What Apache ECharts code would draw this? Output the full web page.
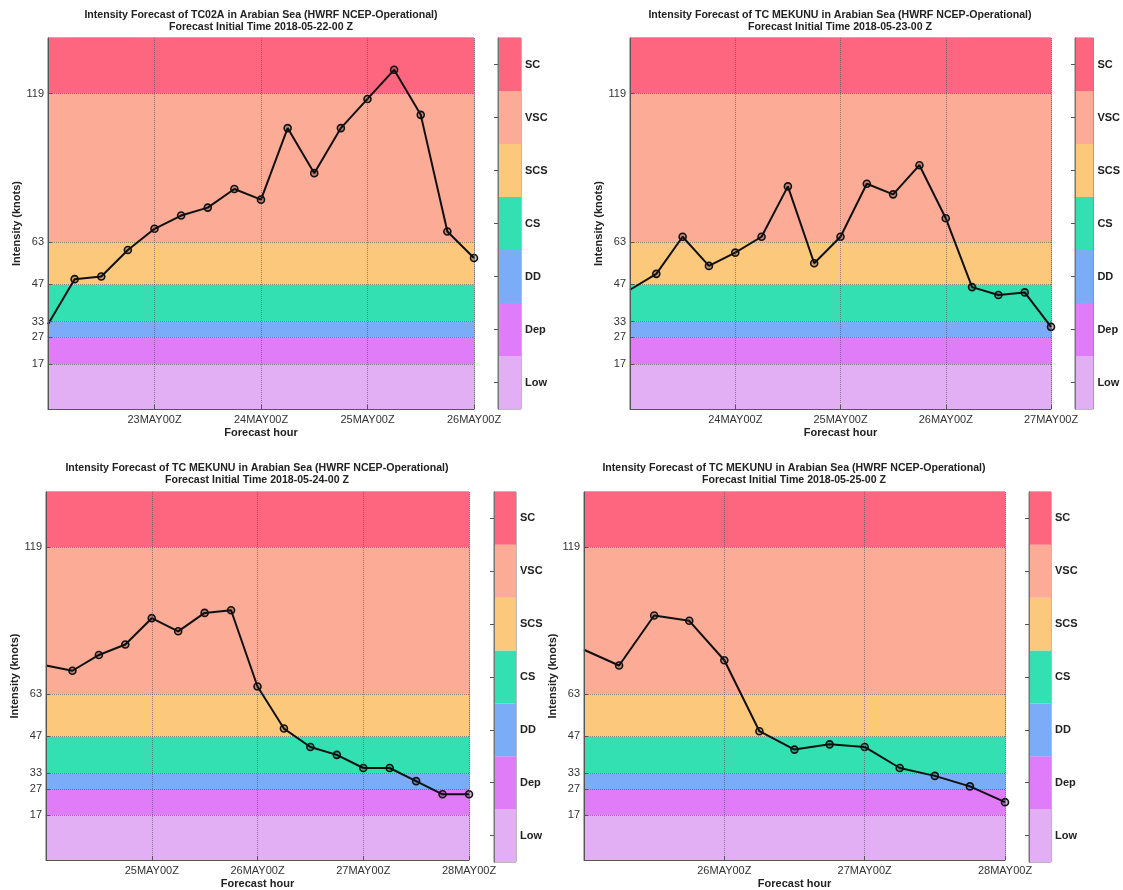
<!DOCTYPE html>
<html>
<head>
<meta charset="utf-8">
<script src="https://cdn.jsdelivr.net/npm/echarts@6/dist/echarts.min.js"></script>
<style>
html,body{margin:0;padding:0;background:#fff;}
#c{width:1123px;height:890px;}
</style>
</head>
<body>
<div id="c"></div>
<script>
// ---- data ----
const categories = ['Low', 'Dep', 'DD', 'CS', 'SCS', 'VSC', 'SC'];
const bandBounds = [0, 17, 27, 33, 47, 63, 119, 140];
const bandColors = ['#e2aef4', '#e07cf8', '#7aacf8', '#33e0b2', '#fcc97c', '#fbab96', '#fe6680'];
const yTicks = [17, 27, 33, 47, 63, 119];

const titles = [
  'Intensity Forecast of TC02A in Arabian Sea (HWRF NCEP-Operational)\nForecast Initial Time 2018-05-22-00 Z',
  'Intensity Forecast of TC MEKUNU in Arabian Sea (HWRF NCEP-Operational)\nForecast Initial Time 2018-05-23-00 Z',
  'Intensity Forecast of TC MEKUNU in Arabian Sea (HWRF NCEP-Operational)\nForecast Initial Time 2018-05-24-00 Z',
  'Intensity Forecast of TC MEKUNU in Arabian Sea (HWRF NCEP-Operational)\nForecast Initial Time 2018-05-25-00 Z'
];

const hours96 = [0, 6, 12, 18, 24, 30, 36, 42, 48, 54, 60, 66, 72, 78, 84, 90, 96];
const hours72 = [0, 6, 12, 18, 24, 30, 36, 42, 48, 54, 60, 66, 72];

const intensity22 = [32, 49, 50, 60, 68, 73, 76, 83, 79, 106, 89, 106, 117, 128, 111, 67, 57];
const intensity23 = [45, 51, 65, 54, 59, 65, 84, 55, 65, 85, 81, 92, 72, 46, 43, 44, 31];
const intensity24 = [74, 72, 78, 82, 92, 87, 94, 95, 66, 50, 43, 40, 35, 35, 30, 25, 25];
const intensity25 = [80, 74, 93, 91, 76, 49, 42, 44, 43, 35, 32, 28, 22];

const xLabels22 = ['', '23MAY00Z', '24MAY00Z', '25MAY00Z', '26MAY00Z'];
const xLabels23 = ['', '24MAY00Z', '25MAY00Z', '26MAY00Z', '27MAY00Z'];
const xLabels24 = ['', '25MAY00Z', '26MAY00Z', '27MAY00Z', '28MAY00Z'];
const xLabels25 = ['', '26MAY00Z', '27MAY00Z', '28MAY00Z'];

// ---- layout ----
const FONT = 'Liberation Sans, Arial, sans-serif';
const panels = [
  {title: titles[0], hours: hours96, vals: intensity22, labels: xLabels22, maxH: 96, yGap: 22,
   grid: {left: 48, top: 38, width: 426, height: 371}, cb: {left: 498, top: 38, width: 23, height: 371}, tx: 261, ty: 9},
  {title: titles[1], hours: hours96, vals: intensity23, labels: xLabels23, maxH: 96, yGap: 23,
   grid: {left: 630, top: 38, width: 421, height: 371}, cb: {left: 1075, top: 38, width: 24, height: 371}, tx: 840, ty: 9},
  {title: titles[2], hours: hours96, vals: intensity24, labels: xLabels24, maxH: 96, yGap: 25,
   grid: {left: 46, top: 492, width: 423, height: 370}, cb: {left: 494, top: 492, width: 22, height: 370}, tx: 257, ty: 462},
  {title: titles[3], hours: hours72, vals: intensity25, labels: xLabels25, maxH: 72, yGap: 25,
   grid: {left: 584, top: 492, width: 421, height: 370}, cb: {left: 1029, top: 492, width: 22, height: 370}, tx: 794, ty: 462}
];

const option = {
  animation: false,
  backgroundColor: '#ffffff',
  textStyle: {fontFamily: FONT},
  title: [], grid: [], xAxis: [], yAxis: [], series: []
};

panels.forEach((p, i) => {
  option.title.push({
    text: p.title, left: p.tx, top: p.ty, textAlign: 'center', padding: 0,
    textStyle: {fontSize: 10.6, fontWeight: 'bold', color: '#222', lineHeight: 12, fontFamily: FONT}
  });
  const gPlot = option.grid.length;
  option.grid.push(Object.assign({show: true, borderColor: '#666', borderWidth: 1, backgroundColor: 'transparent'}, p.grid));
  const gCb = option.grid.length;
  option.grid.push(Object.assign({show: true, borderColor: '#777', borderWidth: 1, backgroundColor: 'transparent'}, p.cb));

  const xPlot = option.xAxis.length;
  option.xAxis.push({
    type: 'value', gridIndex: gPlot, min: 0, max: p.maxH, interval: 24, z: 6,
    name: 'Forecast hour', nameLocation: 'middle', nameGap: 18,
    nameTextStyle: {fontSize: 11, fontWeight: 'bold', color: '#222', fontFamily: FONT},
    axisLine: {show: true, onZero: false, lineStyle: {color: '#555'}},
    axisTick: {show: true, inside: true, length: 4, lineStyle: {color: '#555'}},
    axisLabel: {margin: 5, fontSize: 11, color: '#333', fontFamily: FONT,
      formatter: v => p.labels[Math.round(v / 24)] || ''},
    splitLine: {show: true, lineStyle: {type: 'dotted', color: 'rgba(70,70,90,0.55)', width: 1}}
  });
  const yPlot = option.yAxis.length;
  option.yAxis.push({
    type: 'value', gridIndex: gPlot, min: 0, max: 140, z: 6,
    name: 'Intensity (knots)', nameLocation: 'middle', nameGap: p.yGap, nameRotate: 90,
    nameTextStyle: {fontSize: 11, fontWeight: 'bold', color: '#222', fontFamily: FONT},
    axisLine: {show: true, lineStyle: {color: '#555'}},
    axisTick: {show: true, inside: true, length: 4, customValues: yTicks, lineStyle: {color: '#555'}},
    axisLabel: {margin: 4, fontSize: 11, color: '#333', fontFamily: FONT, customValues: yTicks},
    splitLine: {show: false}
  });

  const xCb = option.xAxis.length;
  option.xAxis.push({type: 'value', gridIndex: gCb, min: 0, max: 1, show: false});
  const yCbR = option.yAxis.length;
  option.yAxis.push({
    type: 'category', gridIndex: gCb, data: categories, position: 'right', z: 6,
    axisLine: {show: true, lineStyle: {color: '#777'}},
    axisTick: {show: true, inside: true, alignWithLabel: true, length: 4, lineStyle: {color: '#555'}},
    axisLabel: {margin: 4, fontSize: 11, fontWeight: 'bold', color: '#222', fontFamily: FONT},
    splitLine: {show: false}
  });
  option.yAxis.push({
    type: 'category', gridIndex: gCb, data: categories, position: 'left', z: 6,
    axisLine: {show: true, lineStyle: {color: '#777'}},
    axisTick: {show: true, inside: false, alignWithLabel: true, length: 4, lineStyle: {color: '#555'}},
    axisLabel: {show: false}, splitLine: {show: false}
  });

  // colorbar
  option.series.push({
    type: 'bar', xAxisIndex: xCb, yAxisIndex: yCbR, barWidth: '100%', barCategoryGap: '0%',
    silent: true, z: 1,
    data: categories.map((c, k) => ({value: 1, itemStyle: {color: bandColors[k]}}))
  });

  // intensity bands + line
  const areas = [];
  for (let k = 0; k < bandColors.length; k++) {
    areas.push([{yAxis: bandBounds[k], itemStyle: {color: bandColors[k], opacity: 1}}, {yAxis: bandBounds[k + 1]}]);
  }
  option.series.push({
    type: 'line', xAxisIndex: xPlot, yAxisIndex: yPlot, z: 5,
    data: p.hours.map((h, k) => k === 0 ? {value: [h, p.vals[k]], symbol: 'none'} : {value: [h, p.vals[k]]}),
    symbol: 'circle', symbolSize: 7, showAllSymbol: true,
    lineStyle: {color: '#111', width: 2},
    itemStyle: {color: 'rgba(0,0,0,0.22)', borderColor: '#111', borderWidth: 1.6},
    markArea: {silent: true, z: 0, data: areas},
    markLine: {silent: true, symbol: 'none', label: {show: false},
      lineStyle: {type: 'dotted', color: 'rgba(70,70,70,0.55)', width: 1},
      data: yTicks.map(v => ({yAxis: v}))}
  });
});

const chart = echarts.init(document.getElementById('c'), null, {renderer: 'canvas'});
chart.setOption(option);
</script>
</body>
</html>
